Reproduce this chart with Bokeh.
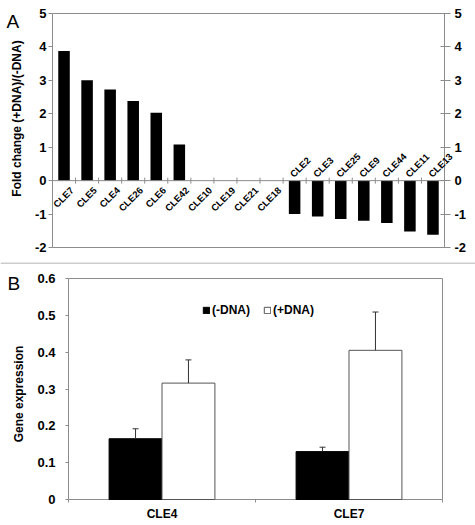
import math
from bokeh.plotting import figure
from bokeh.models import (ColumnDataSource, Label, LinearAxis, FixedTicker,
                          Range1d, Legend, LegendItem, Span)
from bokeh.layouts import column
from bokeh.embed import file_html
from bokeh.resources import INLINE
from bokeh.core.properties import value

# ---------------- data ----------------
genes_a = ["CLE7", "CLE5", "CLE4", "CLE26", "CLE6", "CLE42", "CLE10", "CLE19", "CLE21",
           "CLE18", "CLE2", "CLE3", "CLE25", "CLE9", "CLE44", "CLE11", "CLE13"]
fold_change = [3.88, 3.0, 2.73, 2.38, 2.03, 1.08, 0.0, 0.0, 0.0, 0.0,
               -1.0, -1.07, -1.15, -1.2, -1.27, -1.52, -1.62]
y_ticks_a = [-2, -1, 0, 1, 2, 3, 4, 5]
y_tick_labels_a = ["-2", "-1", "0", "1", "2", "3", "4", "5"]

genes_b = ["CLE4", "CLE7"]
minus_dna = [0.165, 0.130]
minus_dna_err = [0.027, 0.012]
plus_dna = [0.316, 0.405]
plus_dna_err = [0.063, 0.104]
y_ticks_b = [0, 0.1, 0.2, 0.3, 0.4, 0.5, 0.6]
y_tick_labels_b = ["0", "0.1", "0.2", "0.3", "0.4", "0.5", "0.6"]

FONT = "Liberation Sans"
FRAME = "#8c8c8c"
W = 475


def style_axis(ax, size="13px"):
    ax.axis_line_color = None
    ax.major_tick_line_color = FRAME
    ax.minor_tick_line_color = None
    ax.major_label_text_font = FONT
    ax.major_label_text_font_style = "bold"
    ax.major_label_text_font_size = size
    ax.major_label_text_color = "black"


# ---------------- panel A ----------------
n = len(genes_a)
HA = 262
a_left, a_right, a_top, a_bottom = 52, 444, 13, 247      # plot box in pixels
ya_min, ya_max = min(y_ticks_a), max(y_ticks_a)
sxa = (a_right - a_left) / n
sya = (a_bottom - a_top) / (ya_max - ya_min)
pa = figure(width=W, height=HA,
            x_range=Range1d(-a_left / sxa, n + (W - a_right) / sxa),
            y_range=Range1d(ya_min - (HA - a_bottom) / sya, ya_max + a_top / sya),
            output_backend="svg", toolbar_location=None,
            x_axis_location=None, y_axis_location=None, min_border=0)
pa.outline_line_color = None
pa.grid.visible = False

pa.quad(left=0, right=n, bottom=ya_min, top=ya_max, fill_color=None,
        line_color=FRAME, line_width=1)

yl = LinearAxis(fixed_location=0, ticker=FixedTicker(ticks=y_ticks_a))
yl.major_label_overrides = dict(zip(y_ticks_a, y_tick_labels_a))
style_axis(yl)
yl.major_tick_in, yl.major_tick_out, yl.major_label_standoff = 0, 4, 2
pa.add_layout(yl, "left")
yr = LinearAxis(fixed_location=n, ticker=FixedTicker(ticks=y_ticks_a))
yr.major_label_overrides = dict(zip(y_ticks_a, y_tick_labels_a))
style_axis(yr)
yr.major_tick_in, yr.major_tick_out, yr.major_label_standoff = 4, 6, 4
pa.add_layout(yr, "right")

centers = [i + 0.5 for i in range(n)]
src_a = ColumnDataSource(dict(x=centers, top=fold_change, name=genes_a))
pa.vbar(x="x", top="top", bottom=0, width=0.5, source=src_a,
        fill_color="black", line_color=None)

pa.segment(x0=[0], y0=[0], x1=[n], y1=[0], line_color=FRAME, line_width=1)
bounds = list(range(1, n))
tick_h = 3 / sya
pa.segment(x0=bounds, y0=[-tick_h] * len(bounds), x1=bounds, y1=[tick_h] * len(bounds),
           line_color=FRAME, line_width=1)

pos_idx = [i for i, v in enumerate(fold_change) if v >= 0]
neg_idx = [i for i, v in enumerate(fold_change) if v < 0]
pa.text(x=[centers[i] for i in pos_idx], y=[0] * len(pos_idx),
        text=[genes_a[i] for i in pos_idx], angle=math.pi / 4,
        text_align="right", text_baseline="middle", x_offset=8, y_offset=8,
        text_font=value(FONT), text_font_style="bold", text_font_size="9.5px",
        text_color="black")
pa.text(x=[centers[i] for i in neg_idx], y=[0] * len(neg_idx),
        text=[genes_a[i] for i in neg_idx], angle=math.pi / 4,
        text_align="left", text_baseline="middle", x_offset=-3, y_offset=-5,
        text_font=value(FONT), text_font_style="bold", text_font_size="9.5px",
        text_color="black")

pa.add_layout(Label(x=0, y=ya_max, x_offset=-35.5, y_offset=-105, angle=math.pi / 2,
                    text="Fold change (+DNA)/(-DNA)", text_align="center",
                    text_baseline="middle", text_font=FONT, text_font_style="bold",
                    text_font_size="12px", text_color="black"))
pa.add_layout(Label(x=0, y=ya_max, x_offset=-46, y_offset=3, text="A", text_align="left",
                    text_baseline="top", text_font=FONT, text_font_size="19px",
                    text_color="black"))

# ---------------- panel B ----------------
m = len(genes_b)
HB = 262
b_left, b_right, b_top, b_bottom = 68, 442, 16, 237
yb_min, yb_max = min(y_ticks_b), max(y_ticks_b)
sxb = (b_right - b_left) / m
syb = (b_bottom - b_top) / (yb_max - yb_min)
pb = figure(width=W, height=HB,
            x_range=Range1d(-b_left / sxb, m + (W - b_right) / sxb),
            y_range=Range1d(yb_min - (HB - b_bottom) / syb, yb_max + b_top / syb),
            output_backend="svg", toolbar_location=None,
            x_axis_location=None, y_axis_location=None, min_border=0)
pb.outline_line_color = None
pb.grid.visible = False

# separator line at the top edge of panel B
pb.add_layout(Span(location=pb.y_range.end - 0.5 / syb, dimension="width",
                   line_color="#9a9a9a", line_width=1))

pb.quad(left=0, right=m, bottom=yb_min, top=yb_max, fill_color=None,
        line_color=FRAME, line_width=1)

cb = [i + 0.5 for i in range(m)]
xb = LinearAxis(fixed_location=0,
                ticker=FixedTicker(ticks=cb, minor_ticks=list(range(m + 1))))
xb.major_label_overrides = dict(zip(cb, genes_b))
style_axis(xb, "12px")
xb.major_tick_in, xb.major_tick_out = 0, 0
xb.minor_tick_line_color = FRAME
xb.minor_tick_in, xb.minor_tick_out = 0, 3
xb.major_label_standoff = 4
pb.add_layout(xb, "below")

ybx = LinearAxis(fixed_location=0, ticker=FixedTicker(ticks=y_ticks_b))
ybx.major_label_overrides = dict(zip(y_ticks_b, y_tick_labels_b))
style_axis(ybx)
ybx.major_tick_in, ybx.major_tick_out, ybx.major_label_standoff = 0, 3, 10
pb.add_layout(ybx, "left")

bw = 0.283
xm = [c - bw / 2 for c in cb]
xp = [c + bw / 2 for c in cb]
r_minus = pb.vbar(x=xm, top=minus_dna, bottom=0, width=bw,
                  fill_color="black", line_color="black")
r_plus = pb.vbar(x=xp, top=plus_dna, bottom=0, width=bw,
                 fill_color="white", line_color="#555555")

cap = 3 / sxb
for xs, tops, errs in ((xm, minus_dna, minus_dna_err), (xp, plus_dna, plus_dna_err)):
    hi = [t + e for t, e in zip(tops, errs)]
    pb.segment(x0=xs, y0=tops, x1=xs, y1=hi, line_color="#333333", line_width=1)
    pb.segment(x0=[x - cap for x in xs], y0=hi, x1=[x + cap for x in xs], y1=hi,
               line_color="#333333", line_width=1)

legend = Legend(items=[LegendItem(label="(-DNA)", renderers=[r_minus]),
                       LegendItem(label="(+DNA)", renderers=[r_plus])],
                orientation="horizontal", location=(202, 207),
                glyph_width=8, glyph_height=8, label_standoff=2, spacing=13,
                padding=0, margin=0, border_line_color=None, background_fill_alpha=0,
                label_text_font=FONT, label_text_font_style="bold",
                label_text_font_size="12px", label_text_color="black",
                label_height=12)
pb.add_layout(legend)

pb.add_layout(Label(x=0, y=yb_max, x_offset=-50, y_offset=-115.5, angle=math.pi / 2,
                    text="Gene expression", text_align="center", text_baseline="middle",
                    text_font=FONT, text_font_style="bold", text_font_size="12px",
                    text_color="black"))
pb.add_layout(Label(x=0, y=yb_max, x_offset=-61, y_offset=6, text="B", text_align="left",
                    text_baseline="top", text_font=FONT, text_font_size="19px",
                    text_color="black"))

layout = column(pa, pb, spacing=0)
open("out.html", "w").write(file_html(layout, INLINE))
